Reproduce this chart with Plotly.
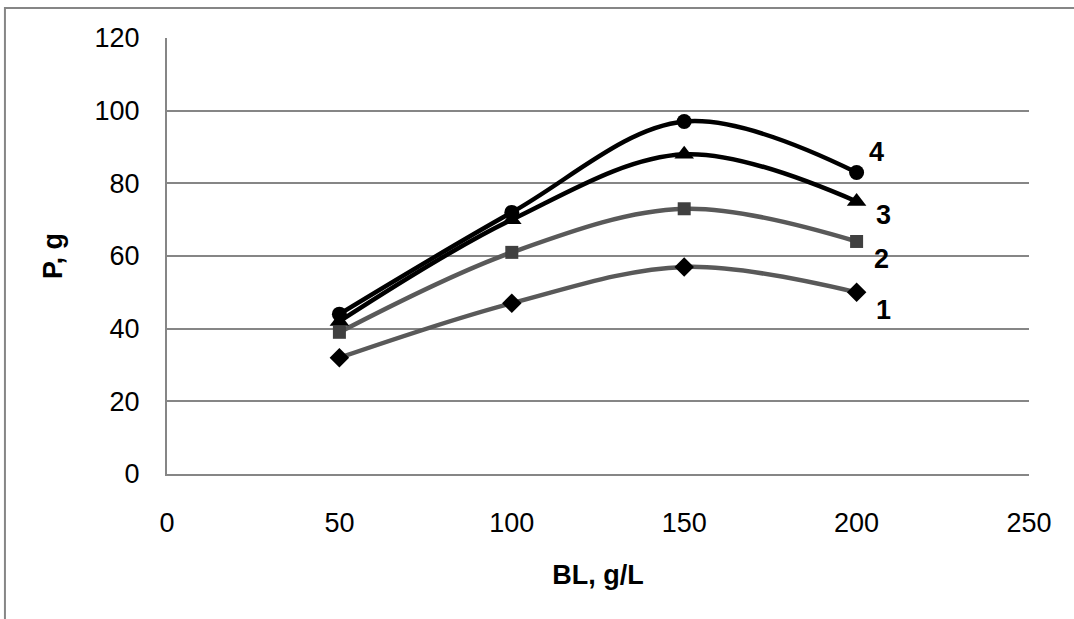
import plotly.graph_objects as go

x_vals = [50, 100, 150, 200]
s1 = [32, 47, 57, 50]
s2 = [39, 61, 73, 64]
s3 = [42, 70, 88, 75]
s4 = [44, 72, 97, 83]
labels = ["1", "2", "3", "4"]
x_ticks = [0, 50, 100, 150, 200, 250]
y_ticks = [0, 20, 40, 60, 80, 100, 120]

FONT = "Liberation Sans, Arial, sans-serif"
GRID = "#868686"

fig = go.Figure()
series = [
    (s1, "#595959", "#000000", "diamond", 15),
    (s2, "#595959", "#404040", "square", 13),
    (s3, "#000000", "#000000", "triangle-up", 17),
    (s4, "#000000", "#000000", "circle", 15),
]
for ys, lc, mc, sym, ms in series:
    fig.add_trace(go.Scatter(
        x=x_vals, y=ys, mode="lines+markers",
        line=dict(color=lc, width=4.5, shape="spline", smoothing=1.0),
        marker=dict(symbol=sym, size=ms, color=mc, line=dict(width=0)),
        showlegend=False, hoverinfo="skip",
    ))

shifts = [(27, -18), (25, -18), (27, -13), (20, 20)]
for lab, ys, (dx, dy) in zip(labels, [s1, s2, s3, s4], shifts):
    fig.add_annotation(x=x_vals[-1], y=ys[-1], text="<b>%s</b>" % lab,
                       showarrow=False, xshift=dx, yshift=dy,
                       font=dict(family=FONT, size=27, color="#000000"))

# outer chart frame
fig.add_shape(type="rect", xref="paper", yref="paper",
              x0=-0.188, x1=1.06, y0=-0.4, y1=1.0688,
              line=dict(color=GRID, width=2), layer="below")

fig.update_layout(
    width=1074, height=619,
    margin=dict(l=167, r=45, t=38, b=145),
    paper_bgcolor="white", plot_bgcolor="white",
    font=dict(family=FONT, size=27, color="#000000"),
    xaxis=dict(range=[0, 250], tickvals=x_ticks, showgrid=False,
               showline=True, linecolor=GRID, linewidth=2, zeroline=False,
               ticks="", ticklabelstandoff=24,
               title=dict(text="<b>BL, g/L</b>", standoff=28,
                          font=dict(family=FONT, size=27))),
    yaxis=dict(range=[0, 120], tickvals=y_ticks, showgrid=True,
               gridcolor=GRID, gridwidth=1.5,
               showline=True, linecolor=GRID, linewidth=2, zeroline=False,
               ticks="", ticklabelstandoff=20,
               title=dict(text="<b>P, g</b>", standoff=24,
                          font=dict(family=FONT, size=27))),
)

fig.write_html("out.html")
